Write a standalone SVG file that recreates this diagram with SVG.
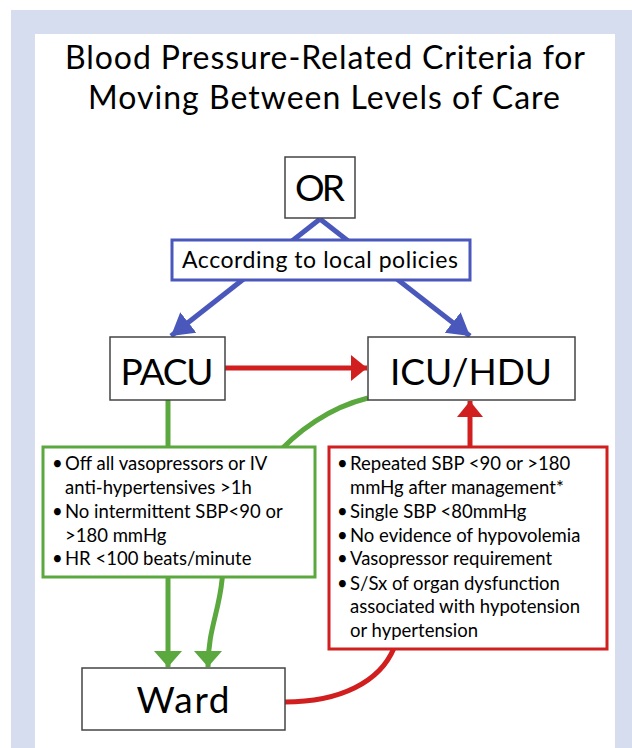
<svg xmlns="http://www.w3.org/2000/svg" width="632" height="748" viewBox="0 0 632 748">
<style>
text{font-family:Lato,"Liberation Sans",sans-serif;fill:#000}
.title{font-size:32px;text-anchor:middle}
.big{font-size:37px;text-anchor:middle}
.mid{font-size:23px;text-anchor:middle}
.body{font-size:18.5px}
.box{fill:#fff;stroke:#444;stroke-width:1.5}
.blue{stroke:#4a57bb;stroke-width:5;fill:none}
.red{stroke:#d11f1f;stroke-width:5;fill:none}
.green{stroke:#5aa83e;stroke-width:5;fill:none}
</style>
<defs>
<marker id="ab" markerUnits="userSpaceOnUse" markerWidth="24" markerHeight="28" refX="22" refY="13" orient="auto"><path d="M0,0 L22,13 L0,26 z" fill="#4a57bb"/></marker>
<marker id="ar" markerUnits="userSpaceOnUse" markerWidth="18" markerHeight="28" refX="16" refY="13" orient="auto"><path d="M0,0 L16,13 L0,26 z" fill="#d11f1f"/></marker>
<marker id="ag" markerUnits="userSpaceOnUse" markerWidth="18" markerHeight="30" refX="16" refY="14" orient="auto"><path d="M0,0 L16,14 L0,28 z" fill="#5aa83e"/></marker>
</defs>
<rect x="11" y="10" width="621" height="738" fill="#d5ddee"/>
<rect x="35" y="34" width="580" height="714" fill="#fff"/>
<g id="title">
<text class="title" x="325" y="69" textLength="520">Blood Pressure-Related Criteria for</text>
<text class="title" x="324" y="109" textLength="472">Moving Between Levels of Care</text>
</g>
<g id="connectors">
<path class="blue" d="M320,219 L171,336" marker-end="url(#ab)"/>
<path class="blue" d="M320,219 L470,336" marker-end="url(#ab)"/>
<path class="red" d="M225,368 L367,368" marker-end="url(#ar)"/>
<path class="red" d="M470,447 L470,401" marker-end="url(#ar)"/>
<path class="red" d="M285,702 C340,702 380,682 394,648"/>
<path class="green" d="M168,400 L168,448"/>
<path class="green" d="M168,576 L168,667" marker-end="url(#ag)"/>
<path class="green" d="M368,398 C295,416 230,488 222,580 C219,612 208,630 208,667" marker-end="url(#ag)"/>
</g>
<g id="OR">
<rect class="box" x="285" y="157" width="70" height="61"/>
<text class="big" x="320" y="201" textLength="50">OR</text>
</g>
<g id="policy">
<rect x="172" y="240" width="298" height="40" fill="#fff" stroke="#4a57bb" stroke-width="3"/>
<text class="mid" x="320" y="268" textLength="276">According to local policies</text>
</g>
<g id="PACU">
<rect class="box" x="110" y="337" width="115" height="63"/>
<text class="big" x="167" y="385" textLength="93">PACU</text>
</g>
<g id="ICU">
<rect class="box" x="368" y="337" width="207" height="63"/>
<text class="big" x="471" y="385" textLength="162">ICU/HDU</text>
</g>
<g id="criteria-ward">
<rect x="43" y="447" width="272" height="130" fill="#fff" stroke="#5aa83e" stroke-width="3"/>
<text class="body" x="52" y="470">•</text><text class="body" x="65" y="470">Off all vasopressors or IV</text>
<text class="body" x="65" y="494">anti-hypertensives &gt;1h</text>
<text class="body" x="52" y="518">•</text><text class="body" x="65" y="518">No intermittent SBP&lt;90 or</text>
<text class="body" x="65" y="542">&gt;180 mmHg</text>
<text class="body" x="52" y="565">•</text><text class="body" x="65" y="565">HR &lt;100 beats/minute</text>
</g>
<g id="criteria-icu">
<rect x="329" y="447" width="278" height="202" fill="#fff" stroke="#d11f1f" stroke-width="3"/>
<text class="body" x="337" y="470">•</text><text class="body" x="350" y="470">Repeated SBP &lt;90 or &gt;180</text>
<text class="body" x="350" y="494">mmHg after management*</text>
<text class="body" x="337" y="518">•</text><text class="body" x="350" y="518">Single SBP &lt;80mmHg</text>
<text class="body" x="337" y="542">•</text><text class="body" x="350" y="542">No evidence of hypovolemia</text>
<text class="body" x="337" y="565">•</text><text class="body" x="350" y="565">Vasopressor requirement</text>
<text class="body" x="337" y="590">•</text><text class="body" x="350" y="590">S/Sx of organ dysfunction</text>
<text class="body" x="350" y="613">associated with hypotension</text>
<text class="body" x="350" y="637">or hypertension</text>
</g>
<g id="Ward">
<rect class="box" x="82" y="668" width="203" height="62"/>
<text class="big" x="183" y="713" textLength="93">Ward</text>
</g>
</svg>
